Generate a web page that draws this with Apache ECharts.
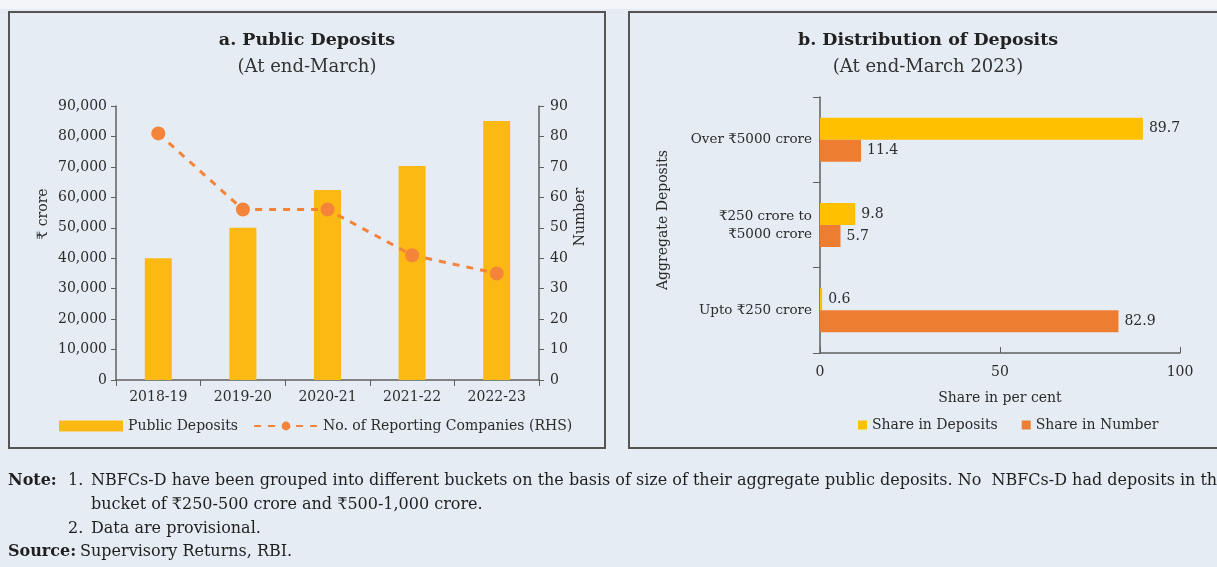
<!DOCTYPE html>
<html>
<head>
<meta charset="utf-8">
<script src="https://cdn.jsdelivr.net/npm/echarts@6/dist/echarts.min.js"></script>
<style>
  html, body { margin: 0; padding: 0; background: #e6ecf3; }
  #chart { width: 1217px; height: 567px; }
</style>
</head>
<body>
<div id="chart"></div>
<script>
  // panel a: public deposits
  var years = ['2018-19', '2019-20', '2020-21', '2021-22', '2022-23'];
  var publicDeposits = [40000, 50000, 62400, 70300, 85100];
  var reportingCompanies = [81, 56, 56, 41, 35];

  // panel b: distribution of deposits
  var buckets = ['Over ₹5000 crore', '₹250 crore to\n₹5000 crore', 'Upto ₹250 crore'];
  var shareDeposits = [89.7, 9.8, 0.6];
  var shareNumber = [11.4, 5.7, 82.9];

  var serif = "'DejaVu Serif', 'Noto Sans', serif";
  var ink = '#2b2b2b';
  var axisCol = '#5f5f5f';

  var chart = echarts.init(document.getElementById('chart'));

  var noteText = function (x, y, text, bold) {
    return {
      type: 'text', x: x, y: y, silent: true,
      style: {
        text: text, fill: '#1f1f1f', fontFamily: serif, fontSize: 16,
        fontWeight: bold ? 'bold' : 'normal', verticalAlign: 'middle'
      }
    };
  };

  var option = {
    backgroundColor: '#e6ecf3',
    animation: false,
    textStyle: { fontFamily: serif, color: ink },
    title: [{
      text: 'a. Public Deposits',
      subtext: '(At end-March)',
      left: 307, top: 31, textAlign: 'center', padding: 0, itemGap: 9,
      textStyle: { fontFamily: serif, fontSize: 17.5, fontWeight: 'bold', color: '#222' },
      subtextStyle: { fontFamily: serif, fontSize: 18, color: '#333' }
    }, {
      text: 'b. Distribution of Deposits',
      subtext: '(At end-March 2023)',
      left: 928, top: 31, textAlign: 'center', padding: 0, itemGap: 9,
      textStyle: { fontFamily: serif, fontSize: 17.5, fontWeight: 'bold', color: '#222' },
      subtextStyle: { fontFamily: serif, fontSize: 18, color: '#333' }
    }],
    legend: [{
      data: [{ name: 'Public Deposits', icon: 'rect' }, { name: 'No. of Reporting Companies (RHS)' }],
      left: 59, top: 419, padding: 0,
      itemWidth: 64, itemHeight: 11, itemGap: 15,
      textStyle: { fontFamily: serif, fontSize: 14, color: ink }
    }, {
      data: ['Share in Deposits', 'Share in Number'],
      icon: 'rect',
      left: 858, top: 418, padding: 0,
      itemWidth: 9, itemHeight: 9, itemGap: 24,
      textStyle: { fontFamily: serif, fontSize: 14, color: ink }
    }],
    grid: [
      { left: 116, top: 106, width: 423, height: 274 },
      { left: 820, top: 97, width: 360, height: 256 }
    ],
    xAxis: [{
      type: 'category', gridIndex: 0, data: years,
      axisLine: { lineStyle: { color: axisCol, width: 1.5 } },
      axisTick: { show: true, length: 6, lineStyle: { color: axisCol } },
      axisLabel: { fontFamily: serif, fontSize: 14, color: ink, margin: 10 }
    }, {
      type: 'value', gridIndex: 1, min: 0, max: 100, interval: 50,
      name: 'Share in per cent', nameLocation: 'middle', nameGap: 38,
      nameTextStyle: { fontFamily: serif, fontSize: 14, color: ink },
      splitLine: { show: false },
      axisLine: { show: true, lineStyle: { color: axisCol, width: 1.5 } },
      axisTick: { show: true, inside: true, length: 6, lineStyle: { color: axisCol } },
      axisLabel: { fontFamily: serif, fontSize: 14, color: ink, margin: 12 }
    }],
    yAxis: [{
      type: 'value', gridIndex: 0, min: 0, max: 90000, interval: 10000,
      name: '₹ crore', nameLocation: 'middle', nameGap: 66,
      nameTextStyle: { fontFamily: serif, fontSize: 14, color: ink, padding: [0, 0, 0, 58] },
      splitLine: { show: false },
      axisLine: { show: true, lineStyle: { color: axisCol, width: 1.5 } },
      axisTick: { show: true, length: 5, lineStyle: { color: axisCol } },
      axisLabel: {
        fontFamily: serif, fontSize: 14, color: ink, margin: 9,
        formatter: function (v) { return v.toLocaleString('en-US'); }
      }
    }, {
      type: 'value', gridIndex: 0, position: 'right', min: 0, max: 90, interval: 10,
      name: 'Number', nameLocation: 'middle', nameGap: 34,
      nameTextStyle: { fontFamily: serif, fontSize: 14, color: ink, padding: [0, 0, 0, 52] },
      splitLine: { show: false },
      axisLine: { show: true, lineStyle: { color: axisCol, width: 1.5 } },
      axisTick: { show: true, length: 5, lineStyle: { color: axisCol } },
      axisLabel: { fontFamily: serif, fontSize: 14, color: ink, margin: 11 }
    }, {
      type: 'category', gridIndex: 1, data: buckets, inverse: true,
      name: 'Aggregate Deposits', nameLocation: 'middle', nameGap: 150,
      nameTextStyle: { fontFamily: serif, fontSize: 14, color: ink, padding: [0, 0, 0, 10] },
      axisLine: { lineStyle: { color: axisCol, width: 1.5 } },
      axisTick: { show: true, length: 7, lineStyle: { color: axisCol } },
      axisLabel: { fontFamily: serif, fontSize: 13.5, color: ink, margin: 8, lineHeight: 18 }
    }],
    series: [{
      name: 'Public Deposits', type: 'bar', xAxisIndex: 0, yAxisIndex: 0,
      data: publicDeposits, barWidth: 27,
      itemStyle: { color: '#fdb913' }
    }, {
      name: 'No. of Reporting Companies (RHS)', type: 'line', xAxisIndex: 0, yAxisIndex: 1,
      data: reportingCompanies,
      symbol: 'circle', symbolSize: 14,
      lineStyle: { color: '#f3843a', width: 3, type: [7, 7] },
      itemStyle: { color: '#f3843a' }
    }, {
      name: 'Share in Deposits', type: 'bar', xAxisIndex: 1, yAxisIndex: 2,
      data: shareDeposits, barWidth: 22, barGap: '0%',
      itemStyle: { color: '#ffc000' },
      label: { show: true, position: 'right', distance: 6, fontFamily: serif, fontSize: 14, color: ink }
    }, {
      name: 'Share in Number', type: 'bar', xAxisIndex: 1, yAxisIndex: 2,
      data: shareNumber, barWidth: 22, barGap: '0%',
      itemStyle: { color: '#ed7d31' },
      label: { show: true, position: 'right', distance: 6, fontFamily: serif, fontSize: 14, color: ink }
    }],
    graphic: [
      { type: 'rect', shape: { x: 0, y: 0, width: 1217, height: 9 }, silent: true, z: -2,
        style: { fill: '#f3f5f8' } },
      { type: 'rect', shape: { x: 9, y: 12, width: 596, height: 436 }, silent: true, z: -1,
        style: { fill: 'none', stroke: '#555', lineWidth: 2 } },
      { type: 'rect', shape: { x: 629, y: 12, width: 620, height: 436 }, silent: true, z: -1,
        style: { fill: 'none', stroke: '#555', lineWidth: 2 } },
      noteText(8, 481, 'Note:', true),
      noteText(68, 481, '1.', false),
      noteText(91, 481, 'NBFCs-D have been grouped into different buckets on the basis of size of their aggregate public deposits. No  NBFCs-D had deposits in the', false),
      noteText(91, 505, 'bucket of ₹250-500 crore and ₹500-1,000 crore.', false),
      noteText(68, 529, '2.', false),
      noteText(91, 529, 'Data are provisional.', false),
      noteText(8, 552, 'Source:', true),
      noteText(80, 552, 'Supervisory Returns, RBI.', false)
    ]
  };

  chart.setOption(option);
</script>
</body>
</html>
